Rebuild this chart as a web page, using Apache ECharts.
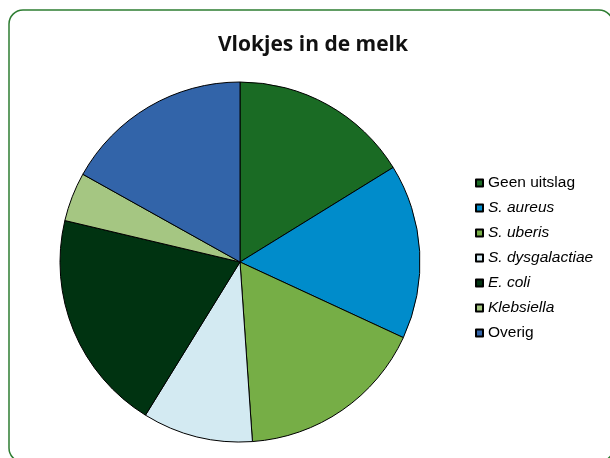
<!DOCTYPE html>
<html>
<head>
<meta charset="utf-8">
<script src="https://cdn.jsdelivr.net/npm/echarts@6/dist/echarts.min.js"></script>
<style>
  html, body { margin: 0; padding: 0; background: #fff; }
  #chart { width: 610px; height: 458px; }
</style>
</head>
<body>
<div id="chart"></div>
<script>
var categories = ["Geen uitslag", "S. aureus", "S. uberis", "S. dysgalactiae", "E. coli", "Klebsiella", "Overig"];
var values = [16.2, 15.7, 17.0, 9.9, 19.9, 4.4, 16.9];
var colors = ["#1a6b24", "#008ccb", "#76ae46", "#d3eaf2", "#003311", "#a5c682", "#3264a9"];
var italicNames = ["S. aureus", "S. uberis", "S. dysgalactiae", "E. coli", "Klebsiella"];

var chart = echarts.init(document.getElementById("chart"));

var data = categories.map(function (name, i) {
    return { name: name, value: values[i], itemStyle: { color: colors[i] } };
});

chart.setOption({
    animation: false,
    title: {
        text: "Vlokjes in de melk",
        left: 308,
        textAlign: "center",
        top: 30,
        textStyle: { fontFamily: "Open Sans", fontWeight: "bold", fontSize: 21, color: "#111" }
    },
    graphic: [{
        type: "rect",
        shape: { x: 9, y: 10, width: 604, height: 452, r: 14 },
        style: { fill: null, stroke: "#2e7d32", lineWidth: 1.5 },
        silent: true
    }],
    legend: {
        orient: "vertical",
        left: 470,
        top: 170,
        icon: "rect",
        itemWidth: 7,
        itemHeight: 7,
        itemGap: 9,
        data: categories,
        formatter: function (name) {
            return italicNames.indexOf(name) >= 0 ? "{i|" + name + "}" : "{n|" + name + "}";
        },
        textStyle: {
            rich: {
                n: { fontFamily: "Liberation Sans", fontSize: 15.5, color: "#000" },
                i: { fontFamily: "Liberation Sans", fontSize: 15.5, fontStyle: "italic", color: "#000" }
            }
        }
    },
    series: [{
        type: "pie",
        center: [240, 262],
        radius: 180,
        startAngle: 90,
        clockwise: true,
        label: { show: false },
        labelLine: { show: false },
        emphasis: { disabled: true },
        itemStyle: { borderColor: "#000", borderWidth: 1 },
        data: data
    }]
});
</script>
</body>
</html>
